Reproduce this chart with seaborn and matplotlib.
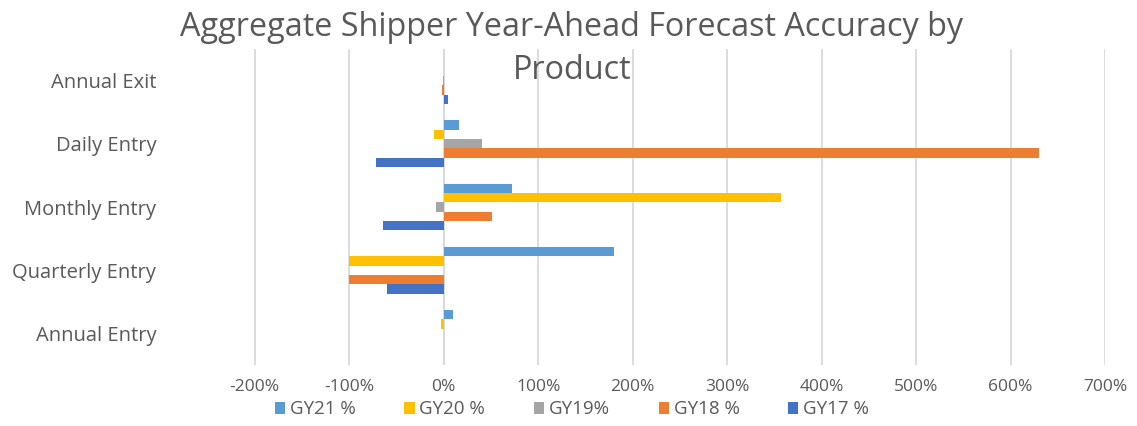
import matplotlib
matplotlib.use("Agg")
import matplotlib.pyplot as plt
import seaborn as sns
import pandas as pd
from matplotlib.patches import Patch

categories = ["Annual Exit", "Daily Entry", "Monthly Entry", "Quarterly Entry", "Annual Entry"]
series_names = ["GY21 %", "GY20 %", "GY19%", "GY18 %", "GY17 %"]
gy21 = [0, 16, 72, 180, 10]
gy20 = [0.5, -10, 357, -100, -3]
gy19 = [-1, 40, -8, 0, 0]
gy18 = [-2, 630, 51, -100, 0]
gy17 = [4, -72, -64, -60, 0]
tick_values = [-200, -100, 0, 100, 200, 300, 400, 500, 600, 700]
tick_labels = ["-200%", "-100%", "0%", "100%", "200%", "300%", "400%", "500%", "600%", "700%"]
colors = ["#5B9BD5", "#FFC000", "#A5A5A5", "#ED7D31", "#4472C4"]

rows = []
for name, vals in zip(series_names, [gy21, gy20, gy19, gy18, gy17]):
    for c, v in zip(categories, vals):
        rows.append({"Product": c, "Series": name, "Value": v})
df = pd.DataFrame(rows)

sns.set_theme(style="white")
plt.rcParams["font.family"] = ["Open Sans", "DejaVu Sans"]

fig = plt.figure(figsize=(11.37, 4.26), dpi=100)
ax = fig.add_axes([0.141, 0.143, 0.831, 0.742])

sns.barplot(data=df, y="Product", x="Value", hue="Series", order=categories,
            hue_order=series_names, palette=colors, orient="h", width=0.74,
            linewidth=0, saturation=1, ax=ax, legend=False, errorbar=None)

ax.set_xlim(-300, 700)
ax.set_xticks(tick_values)
ax.set_xticklabels(tick_labels)
ax.set_ylim(4.5, -0.5)
ax.grid(axis="x", color="#D9D9D9", linewidth=1.3)
ax.set_axisbelow(True)
ax.axvline(0, color="#D9D9D9", linewidth=1.3, zorder=0.5)
for s in ax.spines.values():
    s.set_visible(False)
ax.set_xlabel("")
ax.set_ylabel("")
ax.tick_params(axis="x", colors="#595959", labelsize=12.5, length=0, pad=10)
ax.tick_params(axis="y", colors="#595959", labelsize=14.5, length=0, pad=3)

fig.text(0.503, 0.975, "Aggregate Shipper Year-Ahead Forecast Accuracy by\nProduct",
         ha="center", va="top", fontsize=23.3, color="#595959", linespacing=1.4)

handles = [Patch(facecolor=c, edgecolor="none") for c in colors]
fig.legend(handles, series_names, loc="lower center", bbox_to_anchor=(0.503, -0.022),
           ncol=5, frameon=False, fontsize=13.5, handlelength=0.55, handleheight=0.55,
           handletextpad=0.25, columnspacing=2.6, labelcolor="#595959")

fig.savefig("out.png", dpi=100)
